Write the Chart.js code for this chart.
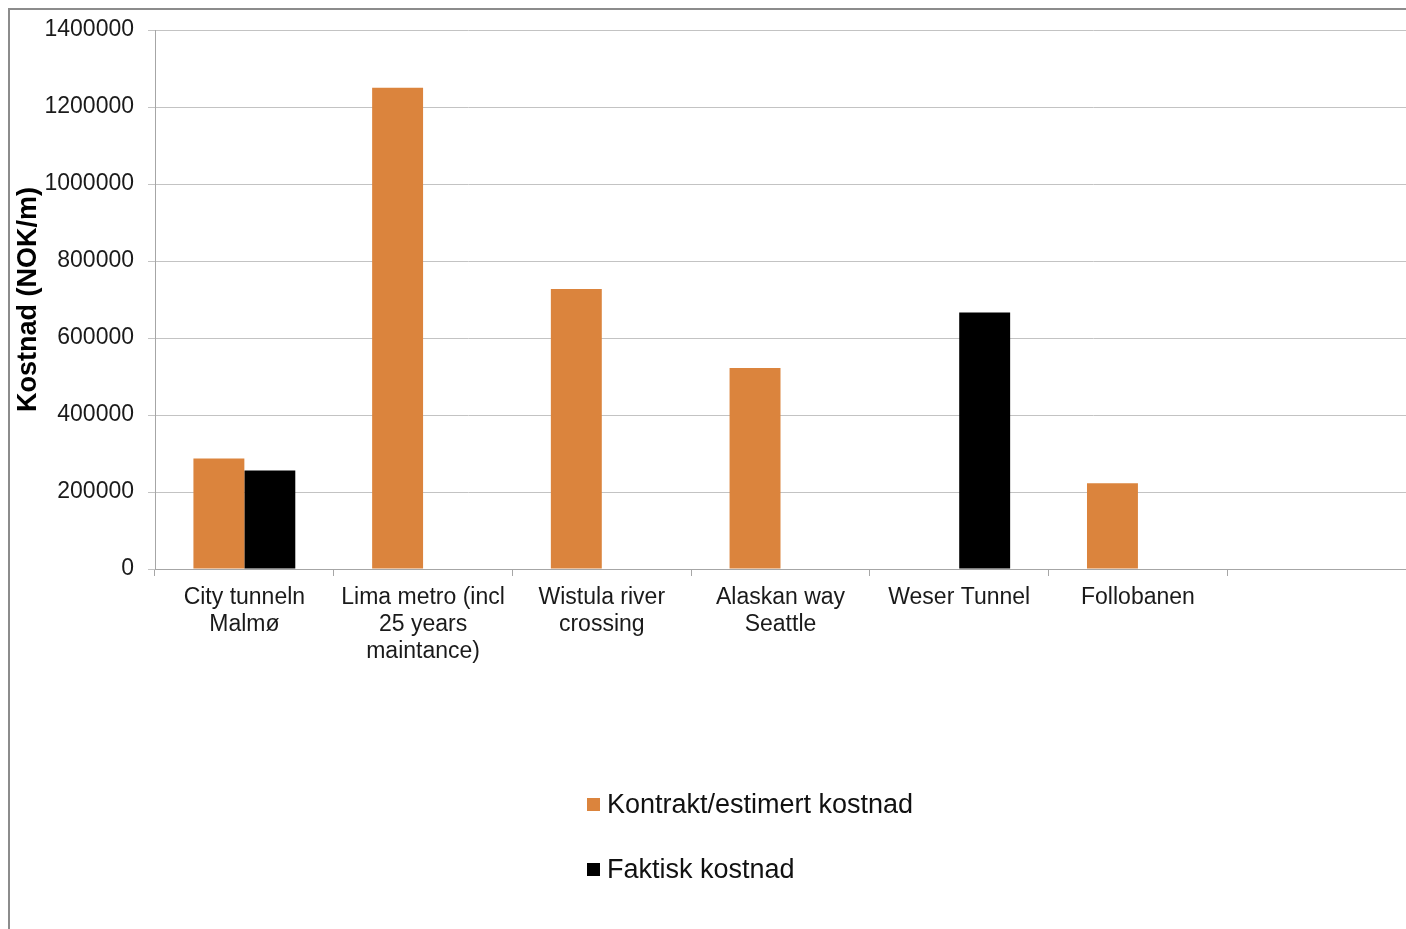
<!DOCTYPE html>
<html>
<head>
<meta charset="utf-8">
<script src="https://cdn.jsdelivr.net/npm/chart.js@4/dist/chart.umd.min.js"></script>
<style>
  html, body { margin: 0; padding: 0; background: #fff; }
  #wrap { position: relative; width: 1406px; height: 929px; overflow: hidden; }
  #frame { position: absolute; left: 8px; top: 8px; width: 1500px; height: 1000px;
           border-left: 2px solid #8c8c8c; border-top: 2px solid #8c8c8c; box-sizing: border-box; }
  canvas { position: absolute; left: 0; top: 0; }
  #legend { position: absolute; left: 587px; top: 785px; font-family: "Liberation Sans", Arial, sans-serif;
            font-size: 27px; color: #111; }
  .item { display: flex; align-items: center; height: 38px; margin-bottom: 27px; }
  .box { width: 13px; height: 13px; margin-right: 7px; }
</style>
</head>
<body>
<div id="wrap">
  <div id="frame"></div>
  <canvas id="c" width="1406" height="929"></canvas>
  <div id="legend"></div>
</div>
<script>
// Tunnel projects and cost per metre (NOK/m)
const categories = [
  ["City tunneln", "Malmø"],
  ["Lima metro (incl", "25 years", "maintance)"],
  ["Wistula river", "crossing"],
  ["Alaskan way", "Seattle"],
  "Weser Tunnel",
  "Follobanen",
  ""
];
const contractCost = [287000, 1250000, 727000, 522000, null, 223000, null];
const actualCost   = [256000, null, null, null, 666000, null, null];
const seriesNames  = ["Kontrakt/estimert kostnad", "Faktisk kostnad"];
const seriesColors = ["#db843d", "#000000"];
const yTickValues  = [0, 200000, 400000, 600000, 800000, 1000000, 1200000, 1400000];

const font = "'Liberation Sans', Arial, sans-serif";

const chart = new Chart(document.getElementById("c"), {
  type: "bar",
  data: {
    labels: categories,
    datasets: [
      { label: seriesNames[0], data: contractCost, backgroundColor: seriesColors[0] },
      { label: seriesNames[1], data: actualCost, backgroundColor: seriesColors[1] }
    ]
  },
  options: {
    responsive: false,
    animation: false,
    devicePixelRatio: 1,
    layout: { padding: { top: 30, left: 12, right: 0, bottom: 0 } },
    datasets: { bar: { categoryPercentage: 0.57, barPercentage: 1.0 } },
    plugins: { legend: { display: false }, tooltip: { enabled: false } },
    scales: {
      x: {
        grid: { display: true, drawOnChartArea: false, drawTicks: true, tickLength: 7, color: "#a6a6a6", offset: true },
        border: { color: "#a6a6a6", width: 1 },
        ticks: { color: "#1a1a1a", font: { family: font, size: 23, lineHeight: "27px" }, padding: 8, maxRotation: 0, autoSkip: false },
        afterFit: s => { s.height = 360; }
      },
      y: {
        min: 0, max: 1400000,
        afterBuildTicks: s => { s.ticks = yTickValues.map(v => ({ value: v })); },
        grid: { color: "#c3c3c3", tickLength: 7 },
        border: { color: "#a6a6a6", width: 1 },
        ticks: { color: "#1a1a1a", font: { family: font, size: 23 }, padding: 14, callback: v => String(v) },
        title: { display: true, text: "Kostnad (NOK/m)", color: "#000", font: { family: font, size: 27, weight: "bold" }, padding: { top: 0, bottom: 0 } },
        afterFit: s => { s.width = 143; }
      }
    }
  }
});

// Vertical legend built from the datasets
const legend = document.getElementById("legend");
chart.data.datasets.forEach(ds => {
  const row = document.createElement("div");
  row.className = "item";
  const box = document.createElement("span");
  box.className = "box";
  box.style.background = ds.backgroundColor;
  const txt = document.createElement("span");
  txt.textContent = ds.label;
  row.appendChild(box);
  row.appendChild(txt);
  legend.appendChild(row);
});
</script>
</body>
</html>
